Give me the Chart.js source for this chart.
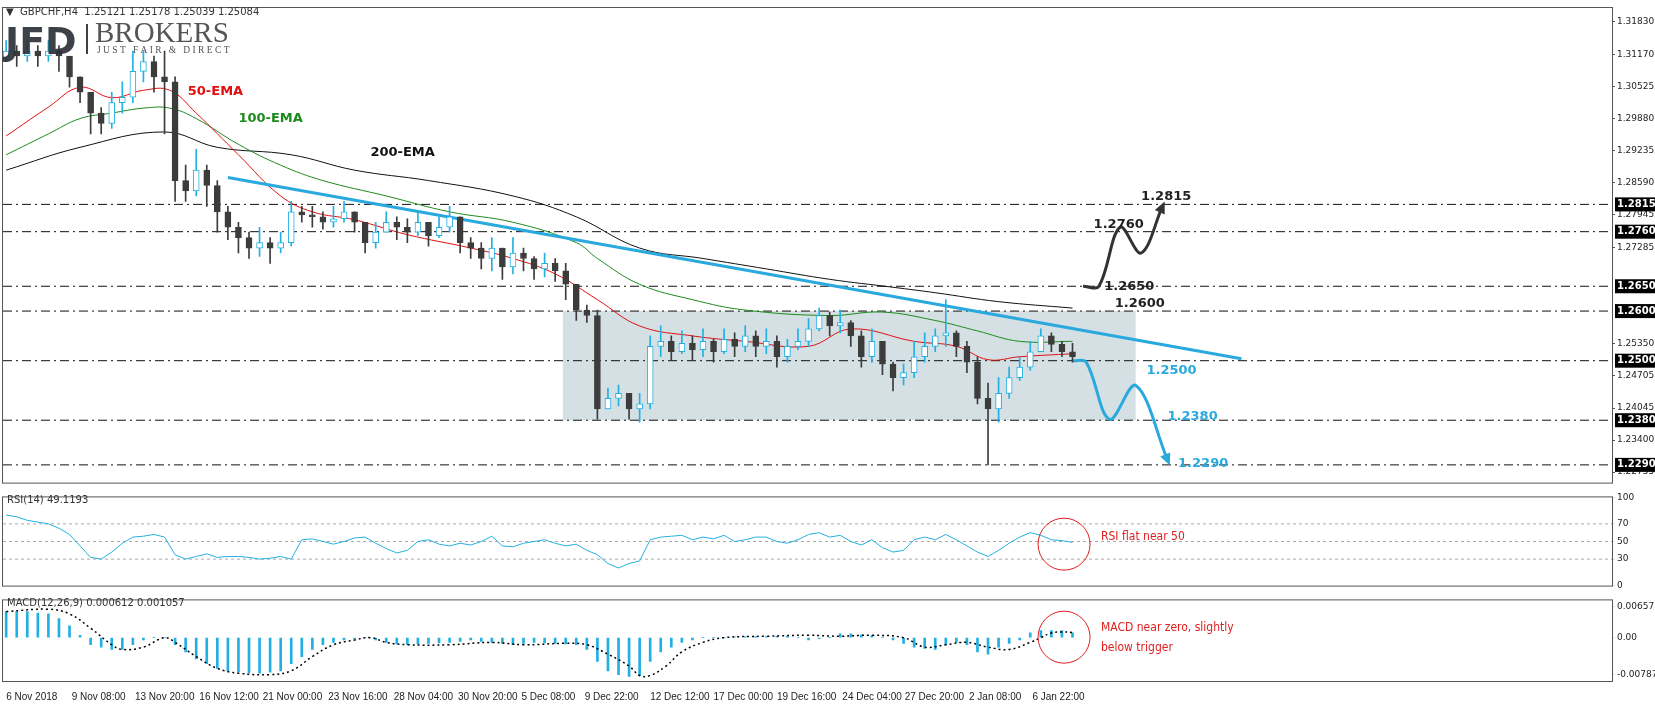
<!DOCTYPE html>
<html><head><meta charset="utf-8">
<script src="https://cdn.jsdelivr.net/npm/chart.js@4/dist/chart.umd.min.js"></script>
<style>
body{margin:0;background:#fff;width:1655px;height:707px;overflow:hidden;position:relative;font-family:"DejaVu Sans",sans-serif}
canvas{position:absolute;left:0}
</style></head><body>
<canvas id="main" width="1655" height="490" style="top:0"></canvas>
<canvas id="rsi" width="1655" height="103" style="top:490px"></canvas>
<canvas id="macd" width="1655" height="114" style="top:593px"></canvas>
<script>
// GBPCHF H4, candles grouped two bars each (index = bar number)
var closes = [1.3124,1.3114,1.3124,1.3114,1.3124,1.3114,1.3072,1.3041,1.2999,1.2978,1.3020,1.3031,1.3083,1.3103,1.3072,1.3062,1.2863,1.2842,1.2884,1.2853,
1.2800,1.2769,1.2748,1.2727,1.2738,1.2727,1.2738,1.2800,1.2794,1.2790,1.2779,1.2786,1.2800,1.2779,1.2738,1.2759,1.2779,1.2769,1.2759,1.2779,
1.2752,1.2769,1.2790,1.2738,1.2727,1.2706,1.2727,1.2689,1.2717,1.2706,1.2685,1.2696,1.2681,1.2654,1.2602,1.2591,1.2403,1.2424,1.2434,1.2403,
1.2413,1.2529,1.2539,1.2518,1.2535,1.2522,1.2539,1.2518,1.2543,1.2529,1.2550,1.2529,1.2539,1.2508,1.2529,1.2539,1.2564,1.2591,1.2570,1.2577,
1.2550,1.2508,1.2539,1.2493,1.2466,1.2476,1.2508,1.2529,1.2550,1.2556,1.2529,1.2497,1.2424,1.2403,1.2434,1.2466,1.2487,1.2518,1.2550,1.2533,
1.2518,1.2508];
var highs = [1.3145,1.3135,1.3145,1.3135,1.3145,1.3135,1.3093,1.3072,1.3041,1.3010,1.3041,1.3062,1.3124,1.3124,1.3114,1.3124,1.3072,1.2894,1.2926,1.2894,
1.2863,1.2811,1.2779,1.2759,1.2769,1.2748,1.2759,1.2821,1.2811,1.2811,1.2800,1.2811,1.2821,1.2800,1.2779,1.2779,1.2800,1.2790,1.2786,1.2800,
1.2779,1.2790,1.2811,1.2790,1.2748,1.2738,1.2748,1.2727,1.2748,1.2727,1.2710,1.2717,1.2706,1.2696,1.2633,1.2612,1.2602,1.2445,1.2451,1.2424,
1.2434,1.2550,1.2570,1.2550,1.2560,1.2550,1.2564,1.2543,1.2564,1.2556,1.2570,1.2560,1.2564,1.2550,1.2543,1.2564,1.2585,1.2606,1.2598,1.2602,
1.2581,1.2560,1.2564,1.2539,1.2497,1.2493,1.2539,1.2556,1.2564,1.2623,1.2560,1.2539,1.2508,1.2455,1.2466,1.2487,1.2508,1.2539,1.2564,1.2556,
1.2539,1.2535];
var lows = [1.3103,1.3093,1.3103,1.3093,1.3103,1.3083,1.3051,1.3020,1.2957,1.2957,1.2968,1.2999,1.3020,1.3062,1.3041,1.2957,1.2821,1.2821,1.2832,1.2811,
1.2759,1.2744,1.2717,1.2706,1.2710,1.2696,1.2717,1.2731,1.2779,1.2769,1.2765,1.2769,1.2779,1.2759,1.2717,1.2727,1.2759,1.2744,1.2738,1.2752,
1.2731,1.2748,1.2759,1.2717,1.2706,1.2685,1.2681,1.2664,1.2675,1.2681,1.2664,1.2669,1.2660,1.2623,1.2581,1.2577,1.2382,1.2403,1.2409,1.2382,
1.2376,1.2403,1.2508,1.2502,1.2514,1.2502,1.2508,1.2497,1.2514,1.2508,1.2518,1.2508,1.2514,1.2487,1.2497,1.2522,1.2529,1.2560,1.2550,1.2556,
1.2529,1.2487,1.2497,1.2472,1.2439,1.2451,1.2466,1.2497,1.2518,1.2529,1.2508,1.2476,1.2413,1.2290,1.2376,1.2424,1.2460,1.2481,1.2518,1.2518,
1.2508,1.2497];
var firstOpen = 1.3110;

var ema50 = [[0,1.2953],[4,1.3011],[7,1.3051],[10,1.3030],[13,1.3045],[15.5,1.3045],[18,1.2999],[22,1.2915],[26,1.2832],[29,1.2800],[33,1.2784],[38,1.2754],[44,1.2727],[48,1.2706],[52,1.2675],[56,1.2623],[60,1.2570],[65,1.2550],[70,1.2539],[76,1.2529],[80,1.2564],[86,1.2539],[90,1.2529],[93,1.2502],[96,1.2508],[101,1.2514]];
var ema100 = [[0,1.2915],[4,1.2957],[7,1.2988],[10,1.2999],[13,1.3009],[15.5,1.3009],[18,1.2988],[22,1.2936],[26,1.2894],[30,1.2863],[36,1.2832],[42,1.2800],[48,1.2779],[54,1.2738],[56,1.2706],[60,1.2654],[65,1.2623],[70,1.2602],[78,1.2591],[83,1.2598],[88,1.2581],[92,1.2560],[96,1.2539],[101,1.2539]];
var ema200 = [[0,1.2884],[7,1.2930],[15,1.2961],[20,1.2930],[27,1.2915],[33,1.2884],[40,1.2863],[48,1.2832],[54,1.2790],[60,1.2727],[66,1.2706],[72,1.2685],[78,1.2664],[84,1.2648],[88,1.2637],[94,1.2619],[101,1.2606]];
var trendLine = [[21,1.2869],[117,1.2504]];
var levels = [1.2815,1.2760,1.2650,1.2600,1.2500,1.2380,1.2290];
var rangeBox = {x0:52.7, x1:107, top:1.2600, bottom:1.2380};
var bullPath = [[102,1.2650],[103.5,1.2650],[105.5,1.2769],[107.5,1.2717],[109.5,1.2810]];
var bearPath = [[101,1.2500],[102.3,1.2497],[104.5,1.2382],[107,1.2450],[110,1.2300]];
var priceTicks = [1.31830,1.31170,1.30525,1.29880,1.29235,1.28590,1.27945,1.27285,1.25350,1.24705,1.24045,1.23400,1.22755];

var rsi = [80,78,74,72,70,65,58,45,32,30,38,48,55,56,58,55,35,30,33,36,32,33,33,32,30,31,33,30,52,53,
50,47,50,54,55,48,42,37,40,50,52,47,45,48,46,50,56,45,44,48,50,52,48,45,47,40,35,25,20,25,
28,52,55,56,57,52,55,53,57,50,52,55,55,50,48,52,58,60,55,57,50,46,52,43,38,40,52,55,52,58,
52,45,38,33,40,48,55,60,57,52,51,49];
// MACD main histogram and signal, in thousandths
var macdHist = [5.5,5.5,5.5,5.2,5,4,2.5,0.5,-1.5,-2,-2.5,-2.5,-1.5,-0.5,0,0,-1.5,-3,-4.5,-5.5,
-6.5,-7,-7.2,-7.4,-7.5,-7.3,-7,-5.5,-4,-2.5,-1.5,-1,-0.5,-0.2,0,-0.5,-1,-1.3,-1.5,-1.3,
-1.2,-1.1,-1,-0.8,-0.5,-0.8,-1,-1.2,-1.5,-1.2,-1,-1.1,-1.2,-1.3,-1.5,-2.5,-5,-7,-7.8,-8.2,
-8,-5,-3,-2,-1,-0.5,0,0,0,0.1,0.2,0.2,0.2,0.3,0.3,0,-0.5,-0.2,0,0.8,
0.8,0.6,0.5,0,-0.5,-1.2,-2,-2.3,-2.5,-1.5,-1,-1.5,-3,-3.5,-2,-1.2,-0.5,1,1.5,1.5,1.5,1];
var macdSignal = [[0,5.5],[4,6],[6,5],[8,2],[10,-1.5],[11,-2.5],[13,-2],[15,0],[16,-1],[18,-4],[20,-6.5],[22,-7.5],[25,-7.8],[27,-7],[29,-4],[31,-1.5],[33,-0.5],[34.5,0],[36,-1],[38,-1.5],[42,-1.5],[46,-1],[49,-1.5],[53,-1.2],[55,-1.5],[57,-3.5],[59,-6],[60,-8],[61,-8],[62.5,-6],[64,-3],[66,-1],[68,0],[72,0.3],[76,0.5],[79,0.3],[82,0.5],[85,0],[87,-2],[89,-1.5],[91,-1],[93,-2],[95,-2.5],[97,-1],[98,0],[99,1],[100,1.2],[101,1.1]];

var dateLabels = ["6 Nov 2018","9 Nov 08:00","13 Nov 20:00","16 Nov 12:00","21 Nov 00:00","23 Nov 16:00","28 Nov 04:00","30 Nov 20:00","5 Dec 08:00","9 Dec 22:00","12 Dec 12:00","17 Dec 00:00","19 Dec 16:00","24 Dec 04:00","27 Dec 20:00","2 Jan 08:00","6 Jan 22:00"];
var dateIdx = [0,6.2,12.2,18.3,24.3,30.5,36.7,42.8,48.8,54.8,61,67,73,79.2,85.1,91.2,97.2];

var X_MIN = -0.3, X_MAX = 152.1;
var BULL = "#22b0e3", BEAR = "#3c3c3c", LINEBLUE = "#2aa9df";
Chart.defaults.font.family = "'DejaVu Sans', sans-serif";
Chart.defaults.animation = false;

function pts(a) { return a.map(function (p) { return {x: p[0], y: p[1]}; }); }
function fitRight(axis) { axis.width = 43; }

var opens = closes.map(function (c, i) { return i ? closes[i - 1] : firstOpen; });
var isBull = closes.map(function (c, i) { return c >= opens[i]; });
var candleCol = isBull.map(function (b) { return b ? BULL : BEAR; });

// frame + free text / arrows
var deco = {
  id: "deco",
  afterDraw: function (chart) {
    var ctx = chart.ctx, a = chart.chartArea, o = chart.options.plugins.deco || {};
    ctx.save();
    ctx.strokeStyle = "#555"; ctx.lineWidth = 1;
    ctx.strokeRect(a.left - 0.5, a.top - 0.5, a.right - a.left + 1, a.bottom - a.top + 1);
    var xs = chart.scales.x, ys = chart.scales.y;
    (o.texts || []).forEach(function (t) {
      ctx.font = t.font; ctx.fillStyle = t.color; ctx.textAlign = t.align || "left"; ctx.textBaseline = "middle";
      var px = t.px != null ? t.px : xs.getPixelForValue(t.x);
      var py = t.py != null ? t.py : ys.getPixelForValue(t.y);
      ctx.fillText(t.text, px, py);
    });
    (o.circles || []).forEach(function (c) {
      ctx.beginPath(); ctx.strokeStyle = "#e02020"; ctx.lineWidth = 1;
      ctx.ellipse(xs.getPixelForValue(c.x), ys.getPixelForValue(c.y), c.r, c.r, 0, 0, Math.PI * 2); ctx.stroke();
    });
    chart.data.datasets.forEach(function (ds, i) {
      if (!ds.arrow) return;
      var d = chart.getDatasetMeta(i).data, p1 = d[d.length - 2], p2 = d[d.length - 1];
      var ang = Math.atan2(p2.y - p1.y, p2.x - p1.x);
      ctx.fillStyle = ds.borderColor; ctx.beginPath();
      ctx.moveTo(p2.x + 6 * Math.cos(ang), p2.y + 6 * Math.sin(ang));
      ctx.lineTo(p2.x + 8 * Math.cos(ang + 2.4), p2.y + 8 * Math.sin(ang + 2.4));
      ctx.lineTo(p2.x + 8 * Math.cos(ang - 2.4), p2.y + 8 * Math.sin(ang - 2.4));
      ctx.closePath(); ctx.fill();
    });
    (o.boxes || []).forEach(function (v) {
      var py = ys.getPixelForValue(v);
      ctx.fillStyle = "#000"; ctx.fillRect(a.right + 3, py - 7, 40, 14);
      ctx.fillStyle = "#fff"; ctx.font = "bold 10px 'DejaVu Sans'"; ctx.textAlign = "left"; ctx.textBaseline = "middle";
      ctx.fillText(v.toFixed(5), a.right + 5, py);
    });
    if (o.logo) {
      ctx.fillStyle = "#333"; ctx.textBaseline = "alphabetic"; ctx.textAlign = "left";
      ctx.font = "10px 'DejaVu Sans'"; ctx.fillText("\u25BC  GBPCHF,H4  1.25121 1.25178 1.25039 1.25084", 6, 15);
      ctx.fillStyle = "rgba(45,50,58,0.92)"; ctx.font = "bold 38px 'DejaVu Sans'"; ctx.fillText("JFD", 5, 54);
      ctx.fillRect(86, 24, 2, 30);
      ctx.fillStyle = "#555"; ctx.font = "29px 'Liberation Serif'"; ctx.fillText("BROKERS", 95, 42);
      ctx.font = "9.5px 'Liberation Serif'"; ctx.fillText("J U S T   F A I R   &   D I R E C T", 97, 53);
    }
    ctx.restore();
  }
};

function xScale(show) {
  return {
    type: "linear", min: X_MIN, max: X_MAX, display: show, offset: false,
    grid: {display: false}, border: {display: false},
    afterBuildTicks: function (ax) { ax.ticks = dateIdx.map(function (v) { return {value: v}; }); },
    ticks: {autoSkip: false, maxRotation: 0, align: "start", color: "#222", padding: 2,
      font: {size: 10, family: "'Liberation Sans', 'DejaVu Sans Condensed', sans-serif"},
      callback: function (v) { var k = dateIdx.indexOf(v); return k < 0 ? "" : dateLabels[k]; }}
  };
}

var mainSets = [];
mainSets.push({type: "line", data: [{x: rangeBox.x0, y: rangeBox.top}, {x: rangeBox.x1, y: rangeBox.top}],
  fill: {value: rangeBox.bottom}, backgroundColor: "rgba(183,203,210,0.6)", borderWidth: 0, pointRadius: 0, order: 20});
levels.forEach(function (v) {
  mainSets.push({type: "line", data: [{x: X_MIN, y: v}, {x: X_MAX, y: v}], borderColor: "#111", borderWidth: 1,
    borderDash: [9, 4, 2, 4], pointRadius: 0, order: 15});
});
mainSets.push({type: "line", data: pts(ema200), borderColor: "#111", borderWidth: 1, pointRadius: 0, tension: 0.4, order: 8});
mainSets.push({type: "line", data: pts(ema100), borderColor: "#1d8a1d", borderWidth: 1, pointRadius: 0, tension: 0.4, order: 7});
mainSets.push({type: "line", data: pts(ema50), borderColor: "#e01010", borderWidth: 1, pointRadius: 0, tension: 0.4, order: 6});
mainSets.push({type: "line", data: pts(trendLine), borderColor: LINEBLUE, borderWidth: 3, pointRadius: 0, order: 5});
mainSets.push({type: "line", data: pts(bullPath), borderColor: "#333", borderWidth: 3, pointRadius: 0, tension: 0.35, arrow: true, order: 4});
mainSets.push({type: "line", data: pts(bearPath), borderColor: LINEBLUE, borderWidth: 3, pointRadius: 0, tension: 0.35, arrow: true, order: 4});
mainSets.push({type: "bar", data: lows.map(function (l, i) { return {x: i, y: [l, highs[i]]}; }),
  backgroundColor: candleCol, barThickness: 1, grouped: false, order: 2});
mainSets.push({type: "bar", data: closes.map(function (c, i) { return {x: i, y: [opens[i], c]}; }),
  backgroundColor: isBull.map(function (b) { return b ? "#ffffff" : BEAR; }), borderColor: candleCol, borderWidth: 1,
  borderSkipped: false, barThickness: 6, minBarLength: 1, grouped: false, order: 1});

var bold = "bold 13px 'DejaVu Sans'";
new Chart("main", {
  type: "bar",
  data: {datasets: mainSets},
  options: {
    responsive: false, devicePixelRatio: 1,
    layout: {padding: {left: 3, top: 8, bottom: 1}},
    plugins: {legend: {display: false}, tooltip: {enabled: false},
      deco: {logo: true, boxes: [1.2815, 1.2760, 1.2650, 1.2600, 1.2500, 1.2380, 1.2290],
        texts: [
          {text: "50-EMA", x: 17.2, y: 1.3042, font: bold, color: "#e01010"},
          {text: "100-EMA", x: 22, y: 1.2988, font: bold, color: "#1d8a1d"},
          {text: "200-EMA", x: 34.5, y: 1.2920, font: bold, color: "#111"},
          {text: "1.2815", x: 107.5, y: 1.2830, font: bold, color: "#222"},
          {text: "1.2760", x: 103, y: 1.2775, font: bold, color: "#222"},
          {text: "1.2650", x: 104, y: 1.2650, font: bold, color: "#222"},
          {text: "1.2600", x: 105, y: 1.2615, font: bold, color: "#222"},
          {text: "1.2500", x: 108, y: 1.2480, font: bold, color: LINEBLUE},
          {text: "1.2380", x: 110, y: 1.2388, font: bold, color: LINEBLUE},
          {text: "1.2290", x: 111, y: 1.2293, font: bold, color: LINEBLUE}
        ]}},
    scales: {
      x: xScale(false),
      y: {position: "right", min: 1.22543, max: 1.32108, afterFit: fitRight,
        grid: {drawOnChartArea: false, tickLength: 3, color: "#555"}, border: {display: false},
        afterBuildTicks: function (ax) { ax.ticks = priceTicks.map(function (v) { return {value: v}; }); },
        ticks: {color: "#222", font: {size: 9}, padding: 2, callback: function (v) { return v.toFixed(5); }}}
    }
  },
  plugins: [deco]
});

var guide = function (v) {
  return {type: "line", data: [{x: X_MIN, y: v}, {x: X_MAX, y: v}], borderColor: "#aaa", borderWidth: 1, borderDash: [3, 3], pointRadius: 0};
};
new Chart("rsi", {
  type: "line",
  data: {datasets: [
    {data: rsi.map(function (v, i) { return {x: i, y: v}; }), borderColor: "#25b0e0", borderWidth: 1, pointRadius: 0},
    guide(70), guide(50), guide(30)
  ]},
  options: {
    responsive: false, devicePixelRatio: 1,
    layout: {padding: {left: 3, top: 0, bottom: 1}},
    plugins: {legend: {display: false}, tooltip: {enabled: false},
      deco: {circles: [{x: 100.2, y: 47, r: 26}],
        texts: [{text: "RSI(14) 49.1193", px: 7, py: 10, font: "10px 'DejaVu Sans'", color: "#333"},
          {text: "RSI flat near 50", x: 103.7, y: 55, font: "12px 'Liberation Sans Narrow', 'DejaVu Sans Condensed'", color: "#e02020"}]}},
    scales: {
      x: xScale(false),
      y: {position: "right", min: 0, max: 100, afterFit: fitRight, grid: {drawOnChartArea: false, tickLength: 3}, border: {display: false},
        afterBuildTicks: function (ax) { ax.ticks = [0, 30, 50, 70, 100].map(function (v) { return {value: v}; }); },
        ticks: {color: "#222", font: {size: 9}, padding: 2}}
    }
  },
  plugins: [deco]
});

new Chart("macd", {
  type: "bar",
  data: {datasets: [
    {type: "line", data: macdSignal.map(function (p) { return {x: p[0], y: p[1] / 1000}; }), borderColor: "#000", borderWidth: 1.5,
      borderDash: [2, 3], pointRadius: 0, tension: 0.4, order: 1},
    {type: "bar", data: macdHist.map(function (v, i) { return {x: i, y: v / 1000}; }), barThickness: 2, order: 2, grouped: false,
      backgroundColor: BULL}
  ]},
  options: {
    responsive: false, devicePixelRatio: 1,
    layout: {padding: {left: 3, top: 1, bottom: 2}},
    plugins: {legend: {display: false}, tooltip: {enabled: false},
      deco: {circles: [{x: 100.2, y: 0.0001, r: 26}],
        texts: [{text: "MACD(12,26,9) 0.000612 0.001057", px: 7, py: 10, font: "10px 'DejaVu Sans'", color: "#333"},
          {text: "MACD near zero, slightly", x: 103.7, y: 0.0020, font: "12px 'Liberation Sans Narrow', 'DejaVu Sans Condensed'", color: "#e02020"},
          {text: "below trigger", x: 103.7, y: -0.0022, font: "12px 'Liberation Sans Narrow', 'DejaVu Sans Condensed'", color: "#e02020"}]}},
    scales: {
      x: xScale(true),
      y: {position: "right", min: -0.00915, max: 0.00786, afterFit: fitRight, grid: {drawOnChartArea: false, tickLength: 3}, border: {display: false},
        afterBuildTicks: function (ax) { ax.ticks = [0.006578, 0, -0.007874].map(function (v) { return {value: v}; }); },
        ticks: {color: "#222", font: {size: 9}, padding: 2, callback: function (v) { return v === 0 ? "0.00" : String(v); }}}
    }
  },
  plugins: [deco]
});
</script>
</body></html>
